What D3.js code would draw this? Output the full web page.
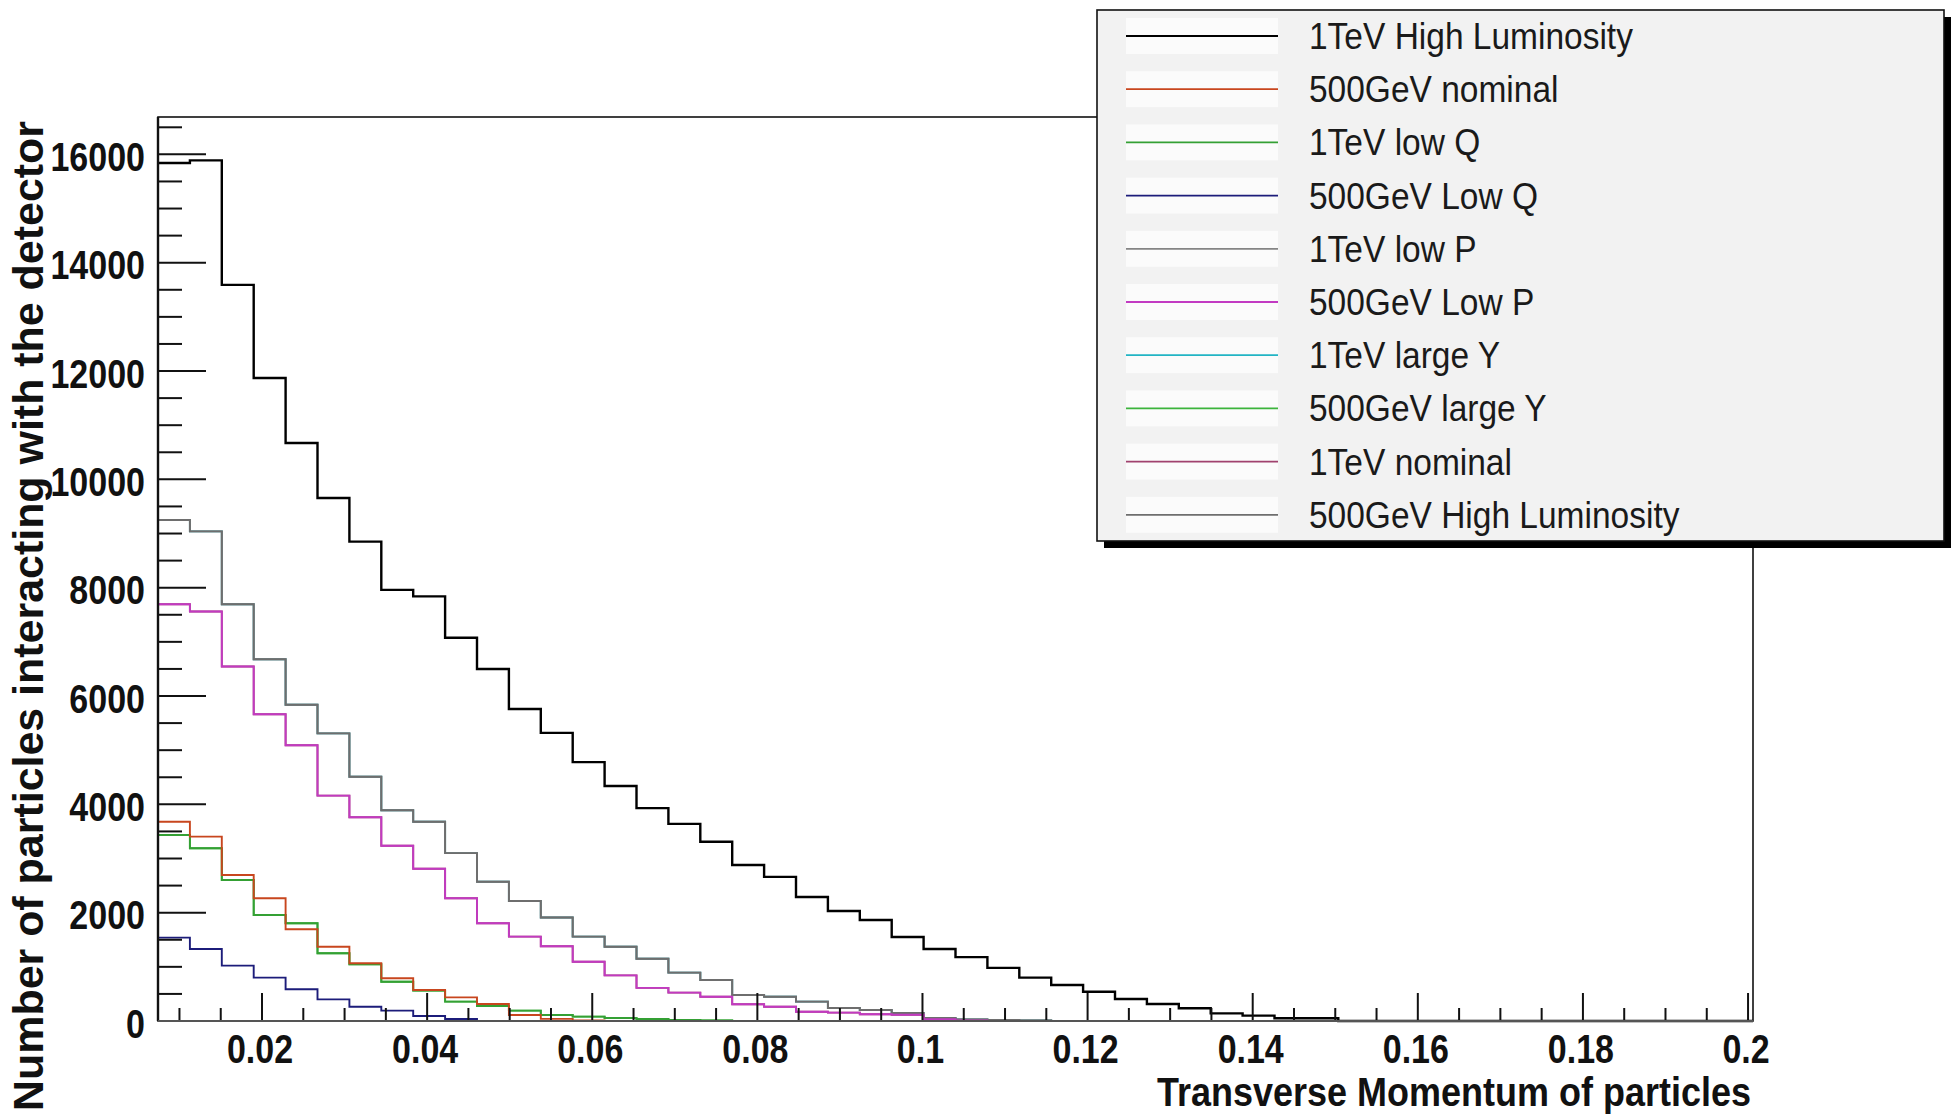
<!DOCTYPE html>
<html>
<head>
<meta charset="utf-8">
<script src="https://cdn.jsdelivr.net/npm/d3@7"></script>
<style>
  html, body { margin: 0; padding: 0; background: #fff; }
  svg { display: block; font-family: "Liberation Sans", Arial, Helvetica, sans-serif; }
</style>
</head>
<body>
<svg id="chart" width="1954" height="1115"></svg>
<script>
// ROOT-style overlay of transverse momentum histograms, 50 bins each.
// Values, one array per series.

const BIN_LOW = 0.0074;
const BIN_HIGH = 0.2006;
const N_BINS = 50;

const tev1HighLumi = [
  15840, 15890, 13590, 11870, 10670, 9655, 8850, 7960, 7840, 7075,
  6500, 5760, 5320, 4780, 4340, 3930, 3640, 3310, 2880, 2660,
  2290, 2030, 1865, 1550, 1330, 1180, 980, 800, 665, 540,
  405, 315, 235, 140, 100, 50, 50, 0, 0, 0,
  0, 0, 0, 0, 0, 0, 0, 0, 0, 0,
];
const gev500Nominal = [
  3680, 3404, 2696, 2266, 1693, 1372, 1065, 788, 572, 437,
  314, 110, 40, 10, 0, 0, 0, 0, 0, 0,
  0, 0, 0, 0, 0, 0, 0, 0, 0, 0,
  0, 0, 0, 0, 0, 0, 0, 0, 0, 0,
  0, 0, 0, 0, 0, 0, 0, 0, 0, 0,
];
const tev1LowQ = [
  3435, 3189, 2604, 1958, 1804, 1250, 1047, 726, 560, 357,
  277, 191, 111, 80, 55, 37, 20, 10, 0, 0,
  0, 0, 0, 0, 0, 0, 0, 0, 0, 0,
  0, 0, 0, 0, 0, 0, 0, 0, 0, 0,
  0, 0, 0, 0, 0, 0, 0, 0, 0, 0,
];
const gev500LowQ = [
  1539, 1330, 1022, 800, 585, 400, 264, 191, 92, 37,
  0, 0, 0, 0, 0, 0, 0, 0, 0, 0,
  0, 0, 0, 0, 0, 0, 0, 0, 0, 0,
  0, 0, 0, 0, 0, 0, 0, 0, 0, 0,
  0, 0, 0, 0, 0, 0, 0, 0, 0, 0,
];
const tev1LowP = [
  9250, 9040, 7695, 6680, 5840, 5310, 4510, 3890, 3680, 3100,
  2570, 2215, 1910, 1557, 1372, 1150, 893, 757, 480, 449,
  357, 240, 203, 148, 55, 30, 20, 10, 0, 0,
  0, 0, 0, 0, 0, 0, 0, 0, 0, 0,
  0, 0, 0, 0, 0, 0, 0, 0, 0, 0,
];
const gev500LowP = [
  7695, 7560, 6544, 5664, 5091, 4161, 3762, 3235, 2810, 2266,
  1804, 1557, 1380, 1095, 843, 612, 523, 449, 308, 264,
  172, 154, 125, 115, 35, 10, 0, 0, 0, 0,
  0, 0, 0, 0, 0, 0, 0, 0, 0, 0,
  0, 0, 0, 0, 0, 0, 0, 0, 0, 0,
];
const tev1LargeY = [
  9250, 9040, 7695, 6680, 5840, 5310, 4510, 3890, 3680, 3100,
  2570, 2215, 1910, 1557, 1372, 1150, 893, 757, 480, 449,
  357, 240, 203, 148, 55, 30, 20, 10, 0, 0,
  0, 0, 0, 0, 0, 0, 0, 0, 0, 0,
  0, 0, 0, 0, 0, 0, 0, 0, 0, 0,
];
const gev500LargeY = [
  3435, 3189, 2604, 1958, 1804, 1250, 1047, 726, 560, 357,
  277, 191, 111, 80, 55, 37, 20, 10, 0, 0,
  0, 0, 0, 0, 0, 0, 0, 0, 0, 0,
  0, 0, 0, 0, 0, 0, 0, 0, 0, 0,
  0, 0, 0, 0, 0, 0, 0, 0, 0, 0,
];
const tev1Nominal = [
  7695, 7560, 6544, 5664, 5091, 4161, 3762, 3235, 2810, 2266,
  1804, 1557, 1380, 1095, 843, 612, 523, 449, 308, 264,
  172, 154, 125, 115, 35, 10, 0, 0, 0, 0,
  0, 0, 0, 0, 0, 0, 0, 0, 0, 0,
  0, 0, 0, 0, 0, 0, 0, 0, 0, 0,
];
const gev500HighLumi = [
  9250, 9040, 7695, 6680, 5840, 5310, 4510, 3890, 3680, 3100,
  2570, 2215, 1910, 1557, 1372, 1150, 893, 757, 480, 449,
  357, 240, 203, 148, 55, 30, 20, 10, 0, 0,
  0, 0, 0, 0, 0, 0, 0, 0, 0, 0,
  0, 0, 0, 0, 0, 0, 0, 0, 0, 0,
];

// legend order (top to bottom)
const seriesNames = [
  "1TeV High Luminosity", "500GeV nominal", "1TeV low Q", "500GeV Low Q",
  "1TeV low P", "500GeV Low P", "1TeV large Y", "500GeV large Y",
  "1TeV nominal", "500GeV High Luminosity",
];
const seriesValues = [
  tev1HighLumi, gev500Nominal, tev1LowQ, gev500LowQ, tev1LowP,
  gev500LowP, tev1LargeY, gev500LargeY, tev1Nominal, gev500HighLumi,
];
const seriesColors = [
  "#000000", "#c8461e", "#34a034", "#1c1c7a", "#858585",
  "#c23ac2", "#22b4c4", "#3cb43c", "#a0426e", "#6e6e6e",
];
// hidden-under series first, visible ones last
const drawOrder = [6, 4, 8, 7, 0, 9, 5, 2, 1, 3];

const xTicksMajor = [0.02, 0.04, 0.06, 0.08, 0.1, 0.12, 0.14, 0.16, 0.18, 0.2];
const yTicksMajor = [0, 2000, 4000, 6000, 8000, 10000, 12000, 14000, 16000];
const Y_MAX = 16690;

const FRAME = { left: 158, right: 1753, top: 117, bottom: 1021 };

const svg = d3.select("#chart");

const x = d3.scaleLinear().domain([BIN_LOW, BIN_HIGH]).range([FRAME.left, FRAME.right]);
const y = d3.scaleLinear().domain([0, Y_MAX]).range([FRAME.bottom, FRAME.top]);

const binWidth = (BIN_HIGH - BIN_LOW) / N_BINS;
const edges = d3.range(N_BINS + 1).map((i) => BIN_LOW + i * binWidth);

// frame
svg.append("rect")
  .attr("x", FRAME.left).attr("y", FRAME.top)
  .attr("width", FRAME.right - FRAME.left)
  .attr("height", FRAME.bottom - FRAME.top)
  .attr("fill", "none").attr("stroke", "#111").attr("stroke-width", 1.6);

// histograms
const stepLine = d3.line()
  .x((d) => x(d[0]))
  .y((d) => y(d[1]))
  .curve(d3.curveStepAfter);

const histLayer = svg.append("g");
drawOrder.forEach((k) => {
  const vals = seriesValues[k];
  const pts = vals.map((v, i) => [edges[i], v]);
  pts.push([edges[N_BINS], vals[N_BINS - 1]]);
  histLayer.append("path")
    .attr("d", stepLine(pts))
    .attr("fill", "none")
    .attr("stroke", seriesColors[k])
    .attr("stroke-width", k === 0 ? 2.4 : 1.9)
    .attr("stroke-linejoin", "miter");
});

// axes, ROOT style: ticks pointing into the frame
const axisLayer = svg.append("g").attr("stroke", "#111");

const yMinor = d3.range(0, Y_MAX, 500);
axisLayer.selectAll("line.ytick")
  .data(yMinor)
  .join("line")
  .attr("x1", FRAME.left)
  .attr("x2", (d) => FRAME.left + (d % 2000 === 0 ? 48 : 24))
  .attr("y1", (d) => y(d)).attr("y2", (d) => y(d))
  .attr("stroke-width", 2);

const xMinor = d3.range(2, 41).map((i) => i * 0.005);
axisLayer.selectAll("line.xtick")
  .data(xMinor)
  .join("line")
  .attr("x1", (d) => x(d)).attr("x2", (d) => x(d))
  .attr("y1", FRAME.bottom)
  .attr("y2", (d, i) => FRAME.bottom - ((i + 2) % 4 === 0 ? 28 : 13))
  .attr("stroke-width", 2);

axisLayer.append("line")
  .attr("x1", FRAME.left).attr("x2", FRAME.left)
  .attr("y1", FRAME.top).attr("y2", FRAME.bottom)
  .attr("stroke-width", 2.4);
axisLayer.append("line")
  .attr("x1", FRAME.left).attr("x2", FRAME.right)
  .attr("y1", FRAME.bottom).attr("y2", FRAME.bottom)
  .attr("stroke", "#555").attr("stroke-width", 2);

// tick labels — the picture's glyphs are tall and narrow, so stretch them
const fmtX = (d) => String(+d.toFixed(2));

svg.append("g").selectAll("g")
  .data(yTicksMajor)
  .join("g")
  .attr("transform", (d) => `translate(145,${y(d) + 2}) scale(1,1.2)`)
  .append("text")
  .attr("text-anchor", "end")
  .attr("dy", "0.36em")
  .attr("font-size", 34)
  .attr("font-weight", "bold")
  .attr("fill", "#111")
  .text((d) => d);

svg.append("g").selectAll("g")
  .data(xTicksMajor)
  .join("g")
  .attr("transform", (d) => `translate(${x(d) - 2},1063) scale(1,1.22)`)
  .append("text")
  .attr("text-anchor", "middle")
  .attr("font-size", 34)
  .attr("font-weight", "bold")
  .attr("fill", "#111")
  .text(fmtX);

// axis titles
svg.append("g")
  .attr("transform", "translate(1751,1106) scale(1,1.15)")
  .append("text")
  .attr("text-anchor", "end")
  .attr("font-size", 36)
  .attr("font-weight", "bold")
  .attr("fill", "#111")
  .text("Transverse Momentum of particles");

svg.append("text")
  .attr("transform", "translate(43,121) rotate(-90)")
  .attr("text-anchor", "end")
  .attr("font-size", 43)
  .attr("font-weight", "bold")
  .attr("fill", "#111")
  .attr("textLength", 990)
  .attr("lengthAdjust", "spacingAndGlyphs")
  .text("Number of particles interacting with the detector");

// legend box with drop shadow
const LEG = { x: 1097, y: 10, w: 847, h: 531, shadow: 7 };
const legend = svg.append("g");
legend.append("rect")
  .attr("x", LEG.x + LEG.shadow).attr("y", LEG.y + LEG.shadow)
  .attr("width", LEG.w).attr("height", LEG.h)
  .attr("fill", "#000");
legend.append("rect")
  .attr("x", LEG.x).attr("y", LEG.y)
  .attr("width", LEG.w).attr("height", LEG.h)
  .attr("fill", "#f2f2f2").attr("stroke", "#111").attr("stroke-width", 1.6);

const rowY = (i) => 36 + i * 53.2;
const rows = legend.selectAll("g.row")
  .data(seriesNames)
  .join("g")
  .attr("class", "row");

rows.append("rect")
  .attr("x", 1126).attr("y", (d, i) => rowY(i) - 18)
  .attr("width", 152).attr("height", 36)
  .attr("fill", "#fbfbfb");
rows.append("line")
  .attr("x1", 1126).attr("x2", 1278)
  .attr("y1", (d, i) => rowY(i)).attr("y2", (d, i) => rowY(i))
  .attr("stroke", (d, i) => seriesColors[i])
  .attr("stroke-width", 1.8);
rows.append("g")
  .attr("transform", (d, i) => `translate(1309,${rowY(i) + 13}) scale(1,1.1)`)
  .append("text")
  .attr("font-size", 33.5)
  .attr("fill", "#1a1a1a")
  .text((d) => d);
</script>
</body>
</html>
